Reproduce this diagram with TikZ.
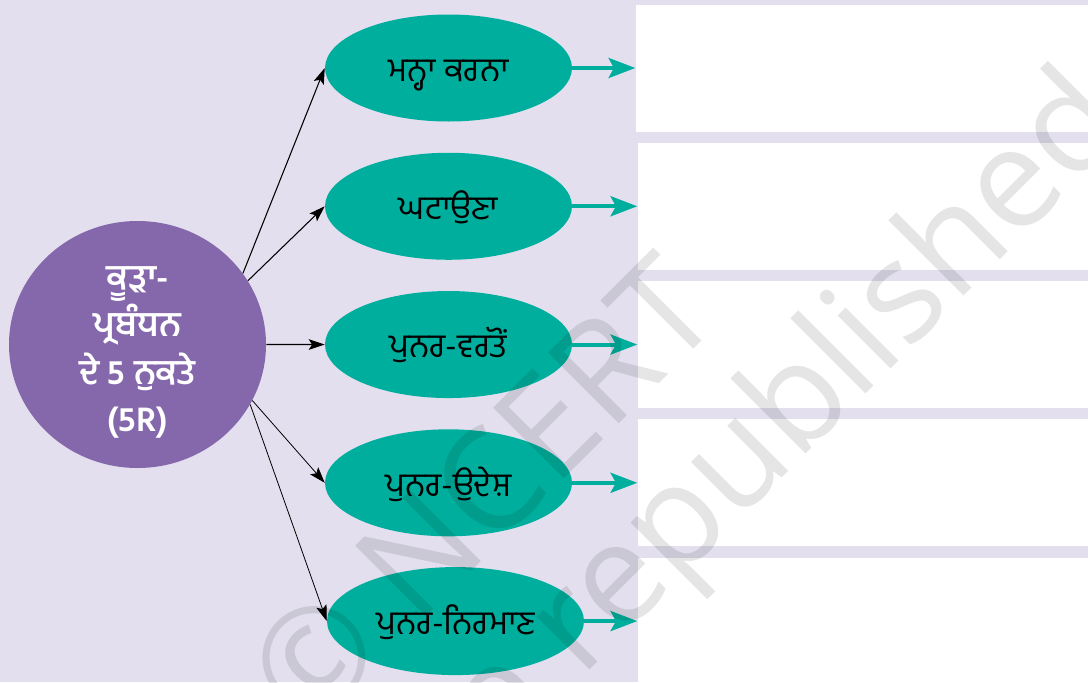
\documentclass[tikz,border=0pt]{standalone}
\usepackage{fontspec}
\newfontfamily\pafont[Script=Gurmukhi]{Hind Jalandhar}
\newfontfamily\wmfont{Open Sans}
\usepackage{xcolor}
\definecolor{lavendel}{RGB}{227,223,239}
\definecolor{lila}{RGB}{133,104,172}
\definecolor{tuerkis}{RGB}{0,174,157}
\usetikzlibrary{arrows.meta, positioning, shapes.geometric}

\begin{document}
\begin{tikzpicture}[x=0.75pt, y=-0.75pt, node distance=103.7pt,
		punkt/.style={ellipse, fill=tuerkis, inner sep=0, minimum width=185.25pt, minimum height=80.25pt, text height=20pt, text depth=0pt, font=\pafont\fontsize{25}{28}\selectfont},
		khana/.style={rectangle, fill=white, inner sep=0, minimum width=345pt, minimum height=95.25pt},
		zweig/.style={-{Stealth[length=12pt, width=8pt, inset=2.5pt]}, line width=0.8pt},
		strahl/.style={-{Stealth[length=20pt, width=15pt, inset=4pt]}, line width=3pt, draw=tuerkis},
		wasser/.style={rotate=45, anchor=base, text=black, opacity=0.1, font=\wmfont\fontsize{105}{105}\selectfont}]
		
		\useasboundingbox (0,0) rectangle (1088,682);
		\clip (0,0) rectangle (1088,682);
		\fill[lavendel] (0,0) rectangle (1088,682);
		
		% nodes
		\node[ellipse, fill=lila, inner sep=0, minimum width=192.75pt, minimum height=185.25pt] (kura) at (137.5,344.5) {};
		\node[align=center, text=white, font=\pafont\bfseries\fontsize{26}{35.5}\selectfont] (kuratext) at (137.5,352.5) 
		{ਕੂੜਾ-\\ਪ੍ਰਬੰਧਨ\\ਦੇ 5 ਨੁਕਤੇ\\(5R)};
		
		\node[punkt] (mana) at (448.5,68) {ਮਨ੍ਹਾ ਕਰਨਾ};
		\node[punkt, below of = mana] (ghatauna) {ਘਟਾਉਣਾ};
		\node[punkt, below of = ghatauna] (vartan) {ਪੁਨਰ-ਵਰਤੋਂ};
		\node[punkt, below of = vartan] (udesh) {ਪੁਨਰ-ਉਦੇਸ਼};
		\node[punkt, below of = udesh, xshift=5.25pt, minimum width=192.75pt, minimum height=81pt] (nirman) {ਪੁਨਰ-ਨਿਰਮਾਣ};
		
		\node[khana, right = 47.25pt of mana] (khana1) {};
		\node[khana, right = 48.75pt of ghatauna] (khana2) {};
		\node[khana, right = 48.75pt of vartan] (khana3) {};
		\node[khana, right = 48.75pt of udesh] (khana4) {};
		\node[khana, right = 39.75pt of nirman] (khana5) {};
		
		% arrows
		\draw[zweig] (kura.34) -- (mana.west);
		\draw[zweig] (kura.30) -- (ghatauna.west);
		\draw[zweig] (kura.0) -- (vartan.west);
		\draw[zweig, line width=0.6pt] (kura.-26) -- (udesh.west);
		\draw[zweig, line width=0.6pt] (kura.-28) -- (nirman.west);
		
		\draw[strahl] (mana) -- (khana1);
		\draw[strahl] (ghatauna) -- (khana2);
		\draw[strahl] (vartan) -- (khana3);
		\draw[strahl] (udesh) -- (khana4);
		\draw[strahl] (nirman) -- (khana5);
		
		% watermark
		\node[wasser] (stempel1) at (517,526) {© NCERT};
		\node[wasser] (stempel2) at (635,625) {not to be republished};
\end{tikzpicture}
\end{document}
